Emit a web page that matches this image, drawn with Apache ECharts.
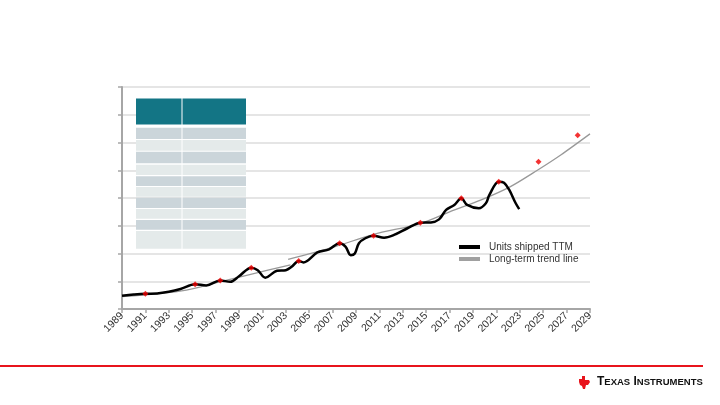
<!DOCTYPE html>
<html><head><meta charset="utf-8">
<script src="https://cdn.jsdelivr.net/npm/echarts@6/dist/echarts.min.js"></script>
<style>html,body{margin:0;padding:0;background:#fff}#c{width:720px;height:405px}</style>
</head><body><div id="c"></div>
<script>
// Units shipped, trailing twelve months (year, value)
const unitsYears = [1989,1990,1991,1992,1993,1994,1995.25,1996.2,1997.4,1998.25,1999,2000.05,2000.6,2001.25,2002.25,2003,2003.5,2004.1,2004.5,2005.7,2006.7,2007.6,2008.1,2008.55,2008.9,2009.25,2009.8,2010.5,2011.4,2012.25,2013.4,2014.5,2015.4,2016.1,2016.7,2017.4,2018.0,2018.5,2019.5,2020.1,2020.4,2021.2,2021.65,2022.1,2022.65,2022.95];
const unitsValues = [0.48,0.52,0.55,0.56,0.62,0.72,0.89,0.85,1.03,0.98,1.18,1.49,1.40,1.13,1.38,1.40,1.52,1.73,1.68,2.04,2.15,2.37,2.25,1.94,2.0,2.37,2.55,2.64,2.57,2.67,2.91,3.11,3.12,3.23,3.57,3.75,3.99,3.75,3.63,3.81,4.11,4.59,4.55,4.29,3.81,3.60];
// Long-term trend line, two segments
const trendAYears = [1989,1992,1994.5,1997,2000,2003.4];
const trendAValues = [0.45,0.55,0.68,0.94,1.25,1.59];
const trendBYears = [2003.2,2007,2010.5,2014.5,2017,2019.7,2022.2,2024.5,2026.5,2029];
const trendBValues = [1.79,2.22,2.69,3.08,3.50,3.93,4.41,5.00,5.55,6.31];
// Red markers
const markYears = [1991,1995.25,1997.4,2000.05,2004.1,2007.6,2010.5,2014.5,2018.0,2021.2,2024.6,2027.95];
const markValues = [0.55,0.89,1.03,1.49,1.73,2.37,2.64,3.11,3.99,4.59,5.31,6.26];
const seriesNames = ['Units shipped TTM','Long-term trend line'];

const unitsData = unitsYears.map((y,i)=>[y,unitsValues[i]]);
const trendAData = trendAYears.map((y,i)=>[y,trendAValues[i]]);
const trendBData = trendBYears.map((y,i)=>[y,trendBValues[i]]);
const markData = markYears.map((y,i)=>[y,markValues[i]]);

// decorative empty table
const tableRows = [[127.7,139,'#cbd5da'],[140,150.7,'#e4eaea'],[151.7,163.3,'#cbd5da'],[164.7,175,'#e4eaea'],[176.3,186,'#cbd5da'],[187,196.7,'#e4eaea'],[197.7,208,'#cbd5da'],[209,218.7,'#e4eaea'],[220,229.7,'#cbd5da'],[231,248.7,'#e4eaea']];
const graphics = [];
graphics.push({type:'rect',shape:{x:136,y:98.5,width:110,height:26},style:{fill:'#137585'},z:10});
tableRows.forEach(r=>graphics.push({type:'rect',shape:{x:136,y:r[0],width:110,height:r[1]-r[0]},style:{fill:r[2]},z:10}));
graphics.push({type:'line',shape:{x1:182,y1:98,x2:182,y2:249},style:{stroke:'#ffffff',lineWidth:1},z:11});
// bottom red rule
graphics.push({type:'rect',shape:{x:0,y:365,width:703,height:2},style:{fill:'#e8141c'},z:10});
// TI logo
graphics.push({type:'polygon',shape:{points:[[579,379],[582,379],[582,376],[585,376],[585,380],[589,380],[590,382],[588,385],[586,385],[585,389],[583,389],[582,386],[580,385],[579,382]]},style:{fill:'#e8141c'},z:10});
graphics.push({type:'text',left:597,top:376,style:{text:'{a|T}{b|EXAS} {a|I}{b|NSTRUMENTS}',rich:{a:{fontSize:12,fontWeight:'bold',fontFamily:'Liberation Sans',fill:'#111'},b:{fontSize:9.5,fontWeight:'bold',fontFamily:'Liberation Sans',fill:'#111'}}},z:10});

const chart = echarts.init(document.getElementById('c'),null,{renderer:'canvas'});
chart.setOption({
  animation:false,
  backgroundColor:'#ffffff',
  textStyle:{fontFamily:'Liberation Sans'},
  grid:{left:122,right:130,top:87,bottom:96},
  legend:{
    data:[{name:seriesNames[0],icon:'rect',itemStyle:{color:'#000'}},{name:seriesNames[1],icon:'rect',itemStyle:{color:'#a0a0a0'}}],
    orient:'vertical',left:454,top:237,itemWidth:21,itemHeight:4,itemGap:2,
    textStyle:{fontSize:10,color:'#333',fontFamily:'Liberation Sans',padding:[0,0,0,4]}
  },
  xAxis:{
    type:'value',min:1989,max:2029,interval:2,
    axisLine:{show:true,lineStyle:{color:'#a6a6a6',width:2}},
    axisTick:{show:true,length:4,lineStyle:{color:'#a6a6a6',width:1.5}},
    axisLabel:{rotate:45,fontSize:10.5,color:'#333',margin:5,showMinLabel:true,showMaxLabel:true,formatter:v=>String(v)},
    splitLine:{show:false}
  },
  yAxis:{
    type:'value',min:0,max:8,interval:1,
    axisLine:{show:true,lineStyle:{color:'#a6a6a6',width:2}},
    axisTick:{show:true,length:4,lineStyle:{color:'#a6a6a6',width:1.5}},
    axisLabel:{show:false},
    splitLine:{show:true,lineStyle:{color:'#dcdcdc',width:1.5}}
  },
  series:[
    {name:seriesNames[1],type:'line',data:trendAData,symbol:'none',smooth:0.3,
     lineStyle:{color:'#999999',width:1.3},itemStyle:{color:'#a0a0a0'},z:2},
    {name:seriesNames[1],type:'line',data:trendBData,symbol:'none',smooth:0.3,
     lineStyle:{color:'#999999',width:1.3},itemStyle:{color:'#a0a0a0'},z:2},
    {name:seriesNames[0],type:'line',data:unitsData,symbol:'none',smooth:0.35,
     lineStyle:{color:'#000',width:2.5},itemStyle:{color:'#000'},z:3},
    {name:'marks',type:'scatter',data:markData,symbol:'diamond',symbolSize:6,
     itemStyle:{color:'#f00000'},z:5}
  ],
  graphic:graphics
});
</script></body></html>
